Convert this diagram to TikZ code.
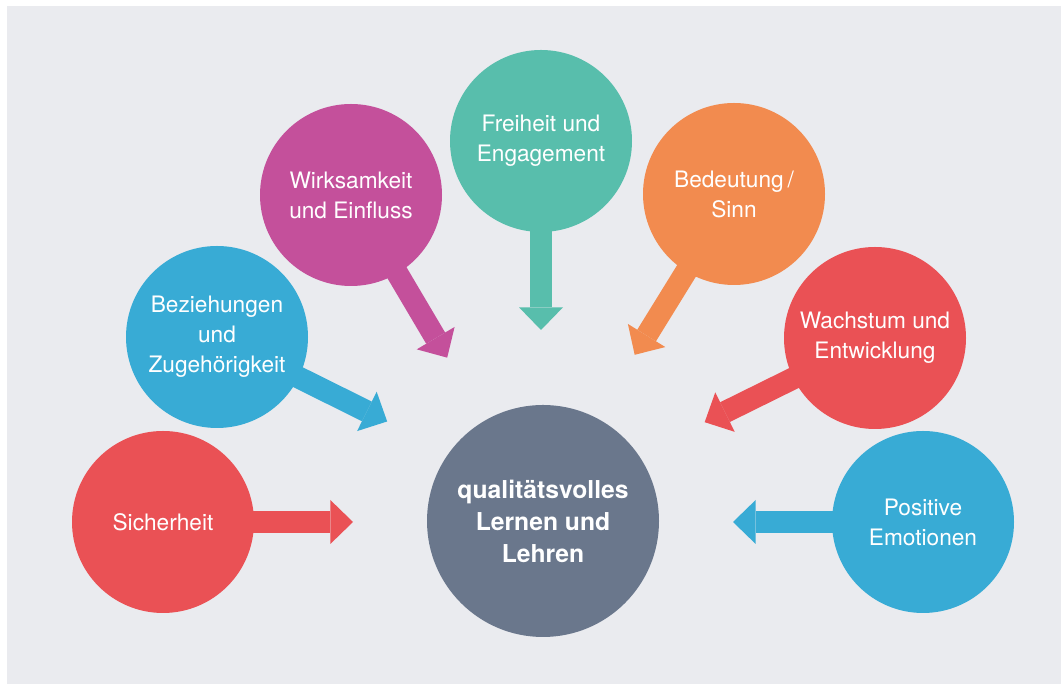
\documentclass[tikz,border=0pt]{standalone}
\usepackage{fontspec}
\setmainfont{TeX Gyre Heros}
\usetikzlibrary{arrows.meta,calc}

\definecolor{bgGrey}{HTML}{EAEBEF}
\definecolor{cRed}{HTML}{EA5155}
\definecolor{cBlue}{HTML}{38ABD5}
\definecolor{cMagenta}{HTML}{C4509B}
\definecolor{cTeal}{HTML}{58BEAC}
\definecolor{cOrange}{HTML}{F28B4F}
\definecolor{cMain}{HTML}{6A778C}

\tikzset{
  bubble/.style={circle,fill=#1,text=white,inner sep=0pt,minimum size=136.5pt,
    align=center,font=\fontsize{17}{22.5}\selectfont},
  fatarrow/.style={draw=#1,line width=16.5pt,shorten <=-3pt,
    -{Triangle[width=33pt,length=17pt,line width=0pt]}}
}

\begin{document}
\begin{tikzpicture}[x=0.75pt,y=0.75pt]
\useasboundingbox (0,0) rectangle (1061,684);
\fill[bgGrey] (7,0) rectangle (1061,678);

\node[bubble=cRed] (sich) at (163,162) {Sicherheit};
\node[bubble=cBlue] (bez) at (217,347) {Beziehungen\\und\\Zugehörigkeit};
\node[bubble=cMagenta] (wirk) at (351,489) {Wirksamkeit\\und Einfluss};
\node[bubble=cTeal] (frei) at (541,543) {Freiheit und\\Engagement};
\node[bubble=cOrange] (bed) at (734,490) {Bedeutung\,/\\Sinn};
\node[bubble=cRed] (wachs) at (875,346) {Wachstum und\\Entwicklung};
\node[bubble=cBlue] (pos) at (923,162) {Positive\\Emotionen};

\node[bubble=cMain,minimum size=174pt,font=\bfseries\fontsize{18.5}{24}\selectfont]
  (main) at (543,163) {qualitätsvolles\\Lernen und\\Lehren};

\coordinate (sichTip) at ($(sich)+(0:190)$);
\coordinate (bezTip) at ($(bez)+(-26.4:190)$);
\coordinate (wirkTip) at ($(wirk)+(-59.4:189)$);
\coordinate (freiTip) at ($(frei)+(-90:189)$);
\coordinate (bedTip) at ($(bed)+(-121.7:189)$);
\coordinate (wachsTip) at ($(wachs)+(-153.7:190)$);
\coordinate (posTip) at ($(pos)+(180:190)$);

\draw[fatarrow=cRed] (sich) -- (sichTip);
\draw[fatarrow=cBlue] (bez) -- (bezTip);
\draw[fatarrow=cMagenta] (wirk) -- (wirkTip);
\draw[fatarrow=cTeal] (frei) -- (freiTip);
\draw[fatarrow=cOrange] (bed) -- (bedTip);
\draw[fatarrow=cRed] (wachs) -- (wachsTip);
\draw[fatarrow=cBlue] (pos) -- (posTip);
\end{tikzpicture}
\end{document}
